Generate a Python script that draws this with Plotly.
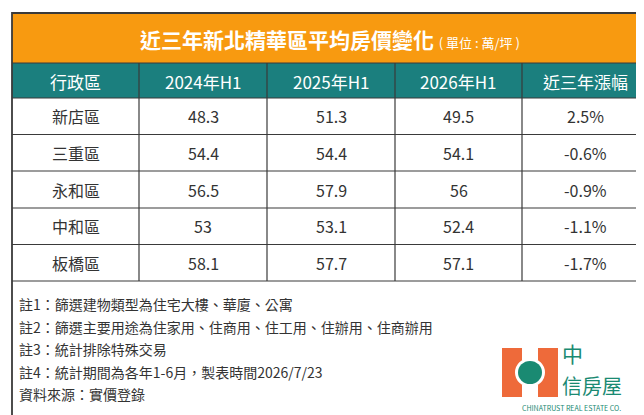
import plotly.graph_objects as go

TITLE = "近三年新北精華區平均房價變化"
UNIT = "( 單位 : 萬/坪 )"
HEADERS = ["行政區", "2024年H1", "2025年H1", "2026年H1", "近三年漲幅"]
DISTRICTS = ["新店區", "三重區", "永和區", "中和區", "板橋區"]
Y2024 = ["48.3", "54.4", "56.5", "53", "58.1"]
Y2025 = ["51.3", "54.4", "57.9", "53.1", "57.7"]
Y2026 = ["49.5", "54.1", "56", "52.4", "57.1"]
CHANGE = ["2.5%", "-0.6%", "-0.9%", "-1.1%", "-1.7%"]
NOTES = [
    "註1：篩選建物類型為住宅大樓、華廈、公寓",
    "註2：篩選主要用途為住家用、住商用、住工用、住辦用、住商辦用",
    "註3：統計排除特殊交易",
    "註4：統計期間為各年1-6月，製表時間2026/7/23",
    "資料來源：實價登錄",
]

FONT = "Noto Sans CJK TC"
ORANGE = "#F89A10"
TEAL = "#1B7F7E"
LINE = "#3a3a3a"

col_x = [4, 131, 259, 387, 514, 640]
row_y = [90, 126.5, 163, 200, 236.5, 273]

fig = go.Figure()
shapes = []
ann = []

# title band and header band
shapes.append(dict(type="rect", x0=4, x1=640, y0=5, y1=55, fillcolor=ORANGE, line=dict(width=0)))
shapes.append(dict(type="rect", x0=4, x1=640, y0=55, y1=90, fillcolor=TEAL, line=dict(width=0)))
# grid lines
for y in row_y[1:]:
    shapes.append(dict(type="line", x0=4, x1=640, y0=y, y1=y, line=dict(color=LINE, width=1.2)))
shapes.append(dict(type="line", x0=4, x1=640, y0=55, y1=55, line=dict(color=LINE, width=1.2)))
shapes.append(dict(type="line", x0=4, x1=640, y0=90, y1=90, line=dict(color=LINE, width=1.2)))
for x in col_x[1:-1]:
    shapes.append(dict(type="line", x0=x, x1=x, y0=55, y1=273, line=dict(color=LINE, width=1.2)))
shapes.append(dict(type="rect", x0=4, x1=640, y0=5, y1=409, line=dict(color=LINE, width=1.8)))

ann.append(dict(x=322, y=31, text=f"<b>{TITLE}</b> <span style='font-size:13px'>{UNIT}</span>",
                font=dict(size=21, color="white", family=FONT)))
for i, h in enumerate(HEADERS):
    ann.append(dict(x=(col_x[i] + col_x[i + 1]) / 2, y=73, text=h,
                    font=dict(size=17, color="white", family=FONT)))

columns = [DISTRICTS, Y2024, Y2025, Y2026, CHANGE]
for c, vals in enumerate(columns):
    for r, v in enumerate(vals):
        ann.append(dict(x=(col_x[c] + col_x[c + 1]) / 2, y=(row_y[r] + row_y[r + 1]) / 2, text=v,
                        font=dict(size=16, color="#333333", family=FONT)))

for i, n in enumerate(NOTES):
    ann.append(dict(x=10, y=296 + i * 22.5, text=n, xanchor="left",
                    font=dict(size=14, color="#333333", family=FONT)))

# logo
shapes.append(dict(type="rect", x0=494, x1=550, y0=340, y1=389, fillcolor="#EE6A3A", line=dict(width=0)))
shapes.append(dict(type="rect", x0=514, x1=530, y0=340, y1=352, fillcolor="white", line=dict(width=0)))
shapes.append(dict(type="rect", x0=514, x1=530, y0=377, y1=389, fillcolor="white", line=dict(width=0)))
shapes.append(dict(type="circle", x0=507, x1=537, y0=350, y1=379, fillcolor="white", line=dict(width=0)))
shapes.append(dict(type="circle", x0=510, x1=534, y0=353, y1=376, fillcolor="#1A8A72", line=dict(width=0)))
ann.append(dict(x=553, y=345, text="中", xanchor="left", font=dict(size=21, color="#1A8A72", family=FONT)))
ann.append(dict(x=553, y=377, text="信房屋", xanchor="left", font=dict(size=20, color="#1A8A72", family=FONT)))
ann.append(dict(x=563, y=400, text="CHINATRUST REAL ESTATE CO.",
                font=dict(size=7, color="#1A8A72", family=FONT)))

for a in ann:
    a.setdefault("xanchor", "center")
    a.update(showarrow=False, xref="x", yref="y", yanchor="middle", borderpad=0)

fig.update_layout(
    width=644, height=415, margin=dict(l=0, r=0, t=0, b=0),
    paper_bgcolor="white", plot_bgcolor="white",
    xaxis=dict(range=[0, 644], visible=False, fixedrange=True),
    yaxis=dict(range=[415, 0], visible=False, fixedrange=True),
    shapes=shapes, annotations=ann, showlegend=False,
)
fig.write_html("out.html")
